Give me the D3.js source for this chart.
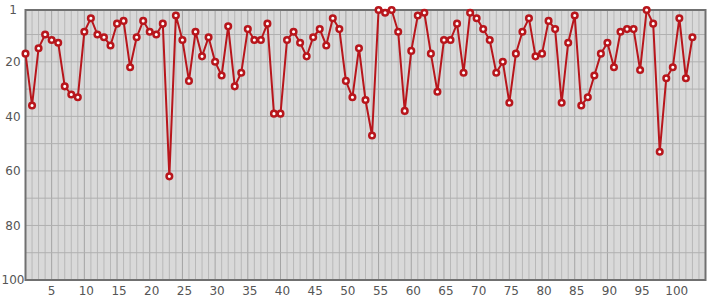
<!DOCTYPE html>
<html>
<head>
<meta charset="utf-8">
<script src="https://cdn.jsdelivr.net/npm/d3@7"></script>
<style>
  body { margin: 0; background: #fff; }
  svg text { font-family: "DejaVu Sans", sans-serif; font-size: 12px; fill: #555; }
</style>
</head>
<body>
<div id="chart"></div>
<script>
// values (rank, lower is better)
const ranks = [17, 36, 15, 10, 12, 13, 29, 32, 33, 9,
  4, 10, 11, 14, 6, 5, 22, 11, 5, 9,
  10, 6, 62, 3, 12, 27, 9, 18, 11, 20,
  25, 7, 29, 24, 8, 12, 12, 6, 39, 39,
  12, 9, 13, 18, 11, 8, 14, 4, 8, 27,
  33, 15, 34, 47, 1, 2, 1, 9, 38, 16,
  3, 2, 17, 31, 12, 12, 6, 24, 2, 4,
  8, 12, 24, 20, 35, 17, 9, 4, 18, 17,
  5, 8, 35, 13, 3, 36, 33, 25, 17, 13,
  22, 9, 8, 8, 23, 1, 6, 53, 26, 22,
  4, 26, 11];
const xTicks = d3.range(5, 101, 5);
const yTicks = [1, 20, 40, 60, 80, 100];
const yGrid = d3.range(10, 100, 10);

const width = 715, height = 300;
const data = ranks.map((r, i) => ({ x: i + 1, y: r }));

const x = d3.scaleLinear().domain([1, 105]).range([25.5, 705.5]);
const y = d3.scaleLinear().domain([1, 100]).range([10, 280]);

const svg = d3.select("#chart").append("svg")
  .attr("width", width).attr("height", height);

// plot background
svg.append("rect")
  .attr("x", x(1)).attr("y", y(1))
  .attr("width", x(105) - x(1)).attr("height", y(100) - y(1))
  .attr("fill", "#d9d9d9");

// grid
const grid = svg.append("g");
grid.selectAll("line.v")
  .data(d3.range(2, 105))
  .join("line")
  .attr("x1", d => x(d)).attr("x2", d => x(d))
  .attr("y1", y(1)).attr("y2", y(100))
  .attr("stroke", d => d % 5 === 0 ? "#a4a4a4" : "#b8b8b8")
  .attr("stroke-width", 1);
grid.selectAll("line.h")
  .data(yGrid)
  .join("line")
  .attr("x1", x(1)).attr("x2", x(105))
  .attr("y1", d => y(d)).attr("y2", d => y(d))
  .attr("stroke", "#b0b0b0")
  .attr("stroke-width", 1);

// frame
svg.append("rect")
  .attr("x", x(1)).attr("y", y(1))
  .attr("width", x(105) - x(1)).attr("height", y(100) - y(1))
  .attr("fill", "none")
  .attr("stroke", "#707070")
  .attr("stroke-width", 2);

// axis labels
svg.append("g").selectAll("text")
  .data(yTicks)
  .join("text")
  .attr("x", 13)
  .attr("y", d => y(d))
  .attr("dy", "0.35em")
  .attr("text-anchor", "middle")
  .text(d => d);

svg.append("g").selectAll("text")
  .data(xTicks)
  .join("text")
  .attr("x", d => x(d) + (String(d).length - 1) * 2)
  .attr("y", 295)
  .attr("text-anchor", "middle")
  .text(d => d);

// series
const line = d3.line().x(d => x(d.x)).y(d => y(d.y));
svg.append("path")
  .datum(data)
  .attr("d", line)
  .attr("fill", "none")
  .attr("stroke", "#b8161c")
  .attr("stroke-width", 2);

svg.append("g").selectAll("circle")
  .data(data)
  .join("circle")
  .attr("cx", d => x(d.x))
  .attr("cy", d => y(d.y))
  .attr("r", 2.8)
  .attr("fill", "#fff")
  .attr("stroke", "#b8161c")
  .attr("stroke-width", 2.5);
</script>
</body>
</html>
